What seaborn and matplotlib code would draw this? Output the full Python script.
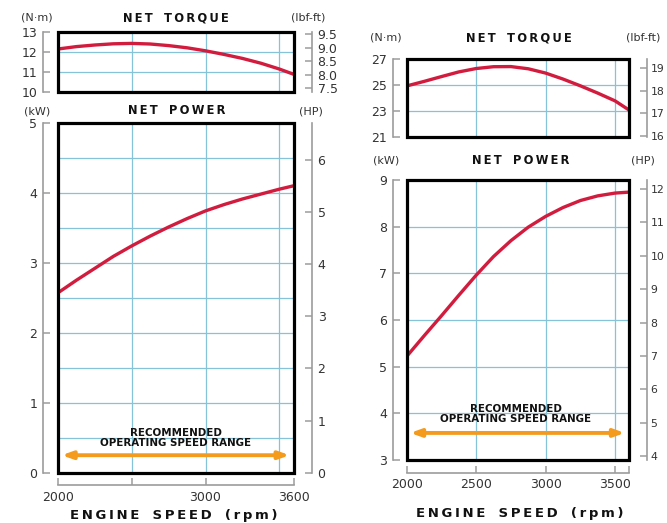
import numpy as np
import pandas as pd
import matplotlib
matplotlib.use("Agg")
import matplotlib.pyplot as plt
import seaborn as sns
from matplotlib.patches import Rectangle

sns.set_theme(style="white")
plt.rcParams['font.family'] = ['DejaVu Sans']

# ---------------- data ----------------
rpm = [2000, 2125, 2250, 2375, 2500, 2625, 2750, 2875, 3000, 3125, 3250, 3375, 3500, 3600]
torque_small = [12.13, 12.25, 12.33, 12.39, 12.41, 12.38, 12.30, 12.19, 12.04, 11.86, 11.66, 11.42, 11.13, 10.86]  # N·m
power_small = [2.57, 2.75, 2.92, 3.09, 3.24, 3.38, 3.51, 3.63, 3.74, 3.83, 3.91, 3.98, 4.05, 4.10]                # kW
torque_large = [24.95, 25.30, 25.67, 26.03, 26.29, 26.43, 26.44, 26.27, 25.94, 25.48, 24.96, 24.40, 23.80, 23.10]  # N·m
power_large = [5.22, 5.66, 6.09, 6.53, 6.96, 7.36, 7.70, 7.99, 8.22, 8.41, 8.56, 8.66, 8.72, 8.74]                 # kW

# axes / ticks
small_tq_ticks = [10, 11, 12, 13]
small_tq_grid = [11, 12]
small_lbf_ticks = [7.5, 8.0, 8.5, 9.0, 9.5]
small_pw_ticks = [0, 1, 2, 3, 4, 5]
small_pw_grid = [0.5, 1, 1.5, 2, 2.5, 3, 3.5, 4, 4.5]
small_hp_ticks = [0, 1, 2, 3, 4, 5, 6]
small_x_ticks = [2000, 2500, 3000, 3600]
small_x_labels = ["2000", "", "3000", "3600"]

large_tq_ticks = [21, 23, 25, 27]
large_tq_grid = [23, 25]
large_lbf_ticks = [16, 17, 18, 19]
large_lbf_lim = [15.94, 19.40]
large_pw_ticks = [3, 4, 5, 6, 7, 8, 9]
large_pw_grid = [4, 5, 6, 7, 8]
large_hp_ticks = [4, 5, 6, 7, 8, 9, 10, 11, 12]
large_hp_lim = [3.88, 12.27]
large_x_ticks = [2000, 2500, 3000, 3500, 3600]
large_x_labels = ["2000", "2500", "3000", "3500", ""]

grid_rpm = [2500, 3000, 3500]
range_rpm = [2025, 3570]
NM_TO_LBFFT = 0.7376
KW_TO_HP = 1.341

RED = "#d21c3e"
ORANGE = "#f49b1e"
GRID = "#86c3d9"
GRAY = "#9c9c9c"
TXT = "#333333"

W, H = 667, 523
fig = plt.figure(figsize=(W / 100, H / 100), dpi=100)
fig.patch.set_facecolor("white")


def rect(x0, y0, x1, y1):
    return [x0 / W, 1 - y1 / H, (x1 - x0) / W, (y1 - y0) / H]


def spaced(s):
    return "\u2009".join(s.replace(" ", "\u2009\u2009"))


def ftext(x, y, s, **kw):
    fig.text(x / W, 1 - y / H, s, ha="center", va="center", **kw)


def panel(r, xs, ys, ylim, yticks, grid_y, lim2, ticks2, labels2,
          xticks=None, xlabels=None, off_l=11, off_r=13, off_b=9,
          rsize=9, rpad=4):
    ax = fig.add_axes(r)
    ax.set_facecolor("white")
    df = pd.DataFrame({"rpm": xs, "val": ys})
    for g in grid_y:
        ax.axhline(g, color=GRID, lw=0.9, zorder=1)
    for g in grid_rpm:
        ax.axvline(g, color=GRID, lw=0.9, zorder=1)
    sns.lineplot(data=df, x="rpm", y="val", ax=ax, color=RED, lw=2.4, zorder=3)
    ax.set_xlim(2000, 3600)
    ax.set_ylim(*ylim)
    ax.set_xlabel("")
    ax.set_ylabel("")
    ax.grid(False)
    ax.set_yticks(yticks)
    ax.set_yticklabels([str(t) for t in yticks])
    for s in ("top", "right"):
        ax.spines[s].set_visible(False)
    ax.spines["left"].set_position(("outward", off_l))
    ax.spines["left"].set_color(GRAY)
    ax.spines["left"].set_linewidth(1.2)
    ax.tick_params(axis="y", direction="in", length=5, width=1.1, color=GRAY,
                   pad=4, labelsize=9, labelcolor=TXT, left=True)
    if xticks is None:
        ax.spines["bottom"].set_visible(False)
        ax.set_xticks([])
    else:
        ax.spines["bottom"].set_position(("outward", off_b))
        ax.spines["bottom"].set_color(GRAY)
        ax.spines["bottom"].set_linewidth(1.2)
        ax.set_xticks(xticks)
        ax.set_xticklabels(xlabels)
        ax.tick_params(axis="x", direction="in", length=5, width=1.1, color=GRAY,
                       pad=4, labelsize=9, labelcolor=TXT, bottom=True)
    ax2 = ax.twinx()
    ax2.set_ylim(*lim2)
    ax2.set_yticks(ticks2)
    ax2.set_yticklabels(labels2)
    ax2.grid(False)
    for s in ("top", "left", "bottom"):
        ax2.spines[s].set_visible(False)
    ax2.spines["right"].set_position(("outward", off_r))
    ax2.spines["right"].set_color(GRAY)
    ax2.spines["right"].set_linewidth(1.2)
    ax2.tick_params(axis="y", direction="in", length=5, width=1.1, color=GRAY,
                    pad=rpad, labelsize=rsize, labelcolor=TXT, right=True)
    ax2.add_patch(Rectangle((0, 0), 1, 1, transform=ax.transAxes, fill=False,
                            lw=2.3, ec="black", clip_on=False, zorder=6))
    return ax


def range_marker(ax, y_arrow, y_t1, y_t2, xc):
    ax.annotate("", xy=(range_rpm[1], y_arrow), xytext=(range_rpm[0], y_arrow),
                arrowprops=dict(arrowstyle="<|-|>,head_length=0.5,head_width=0.18",
                                color=ORANGE, lw=2.8, shrinkA=0, shrinkB=0),
                zorder=4)
    kw = dict(ha="center", va="center", fontsize=7.4, weight="bold", color="#111111",
              family=["Liberation Sans Narrow", "DejaVu Sans"], zorder=5)
    ax.text(xc, y_t1, "RECOMMENDED", **kw)
    ax.text(xc, y_t2, "OPERATING SPEED RANGE", **kw)


# ---------------- left chart ----------------
panel(rect(58, 31.6, 294, 91.6), rpm, torque_small, (10, 13), small_tq_ticks, small_tq_grid,
      (10 * NM_TO_LBFFT, 13 * NM_TO_LBFFT), small_lbf_ticks,
      [f"{t:.1f}" for t in small_lbf_ticks], off_l=11, off_r=13)
axp = panel(rect(58, 122.7, 294, 472.7), rpm, power_small, (0, 5), small_pw_ticks, small_pw_grid,
            (0, 5 * KW_TO_HP), small_hp_ticks, [str(t) for t in small_hp_ticks],
            xticks=small_x_ticks, xlabels=small_x_labels, off_l=11, off_r=13, off_b=9)
range_marker(axp, 0.25, 0.56, 0.42, 2800)

TITLE = dict(weight="bold", fontsize=8.3, color="#111111")
UNIT = dict(fontsize=8, color=TXT)
ftext(37, 18, "(N·m)", **UNIT)
ftext(176, 18, spaced("NET TORQUE"), **TITLE)
ftext(308, 18, "(lbf-ft)", **UNIT)
ftext(37, 111, "(kW)", **UNIT)
ftext(177, 111, spaced("NET POWER"), **TITLE)
ftext(311, 111, "(HP)", **UNIT)
ftext(174, 515, spaced("ENGINE SPEED (rpm)"), weight="bold", fontsize=9.5, color="#111111")

# ---------------- right chart ----------------
panel(rect(406.7, 59.3, 629, 137.3), rpm, torque_large, (21, 27), large_tq_ticks, large_tq_grid,
      large_lbf_lim, large_lbf_ticks, [str(t) for t in large_lbf_ticks], off_l=10, off_r=13,
      rsize=7.8, rpad=2.5)
axq = panel(rect(406.7, 180, 629, 460), rpm, power_large, (3, 9), large_pw_ticks, large_pw_grid,
            large_hp_lim, large_hp_ticks, [str(t) for t in large_hp_ticks],
            xticks=large_x_ticks, xlabels=large_x_labels, off_l=10, off_r=13, off_b=9,
            rsize=7.8, rpad=2.5)
range_marker(axq, 3.58, 4.10, 3.87, 2786)

ftext(386, 38, "(N·m)", **UNIT)
ftext(519, 38, spaced("NET TORQUE"), **TITLE)
ftext(643, 38, "(lbf-ft)", **UNIT)
ftext(386, 161, "(kW)", **UNIT)
ftext(521, 161, spaced("NET POWER"), **TITLE)
ftext(643, 161, "(HP)", **UNIT)
ftext(520, 513, spaced("ENGINE SPEED (rpm)"), weight="bold", fontsize=9.5, color="#111111")

fig.savefig("out.png", dpi=100, facecolor="white")
